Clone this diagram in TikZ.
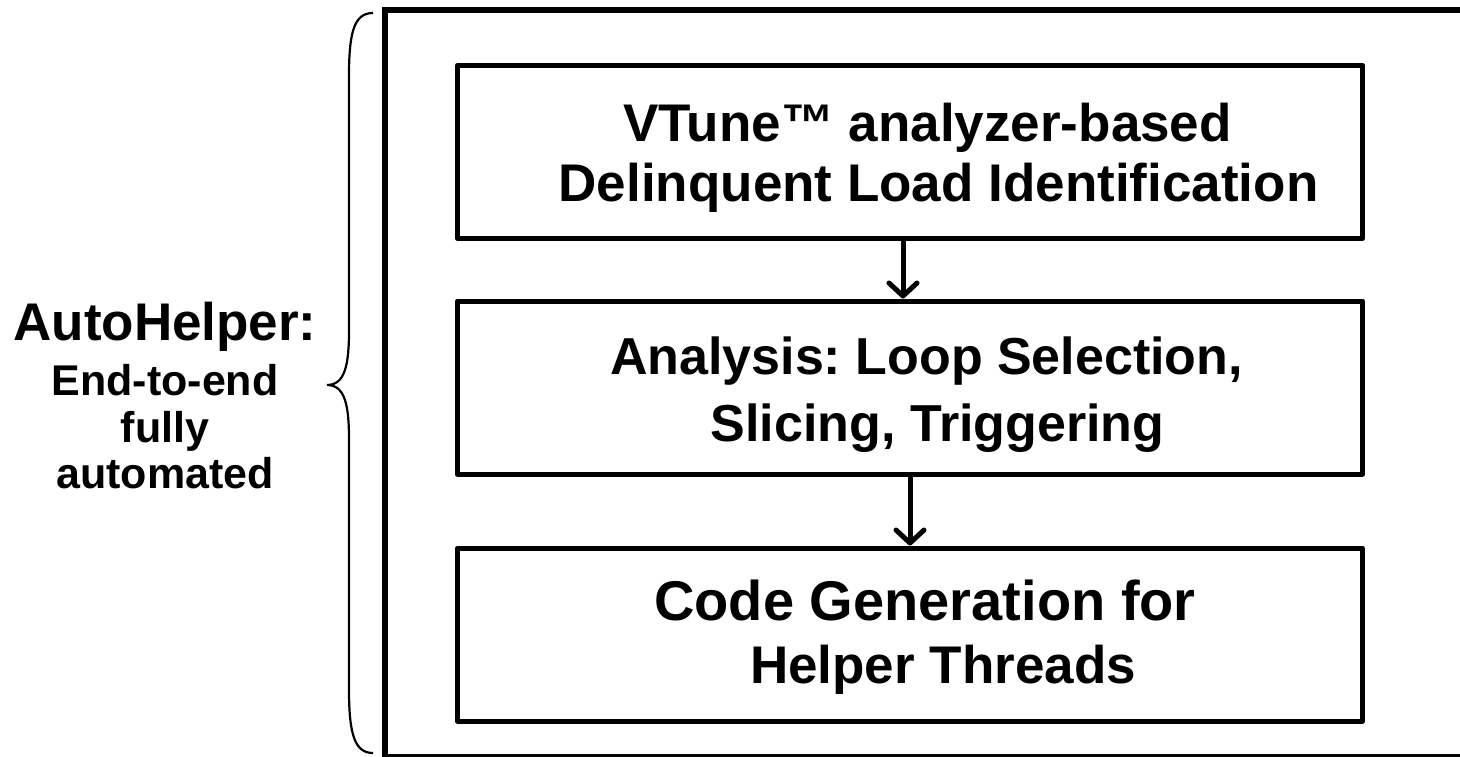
\documentclass[tikz,border=0pt]{standalone}
\usepackage{fontspec}
\setmainfont{Liberation Sans}
\usetikzlibrary{arrows.meta,positioning}
\frenchspacing

\begin{document}
\begin{tikzpicture}[x=0.5pt,y=-0.5pt,
    every node/.style={font=\bfseries,align=center,inner sep=0pt},
    stage/.style={draw,line width=2.5pt,line join=round,minimum width=452.5pt,minimum height=86.5pt},
    flow/.style={line width=2.5pt,-{Straight Barb[length=6.5pt,width=14pt,round]}}]
    \clip (0,0) rectangle (1460,756);
    % frame and brace
    \draw[line width=3pt] (1500,10) -- (385,10) -- (385,757) -- (1500,757);
    \draw[line width=1.1pt] (373,13) .. controls (355,13) and (349,30) .. (349,75) -- (349,330)
        .. controls (349,365) and (345,385) .. (327,385)
        .. controls (345,385) and (349,405) .. (349,440) -- (349,690)
        .. controls (349,735) and (355,753) .. (373,753);
    \node[font=\bfseries\fontsize{26.5}{32}\selectfont,anchor=base] (auto) at (165,340) {AutoHelper:};
    \node[font=\bfseries\fontsize{21.5}{23.25}\selectfont] (autonote) at (165,427) {End-to-end\\fully\\automated};
    % stages
    \node[stage] (detect) at (910,151.8) {};
    \node[stage] (analyse) at (910,387.5) {};
    \node[stage] (codegen) at (910,634.5) {};
    \node[font=\bfseries\fontsize{26.5}{30}\selectfont] (detecttxt) at (933,158) {VTune™ analyzer-based\hspace*{5.5pt}\\\hspace*{5.5pt}Delinquent Load Identification};
    \node[font=\bfseries\fontsize{26}{33.5}\selectfont] (analysetxt) at (932,395) {Analysis: Loop Selection,\hspace*{5.5pt}\\\hspace*{5.5pt}Slicing, Triggering};
    \node[font=\bfseries\fontsize{28}{31.5}\selectfont] (codegentxt) at (934,637) {Code Generation for\hspace*{9pt}\\\fontsize{26.5}{31.5}\selectfont\hspace*{9pt}Helper Threads};
    \draw[flow] ([xshift=-3.5pt]detect.south) -- ([xshift=-3.5pt]analyse.north);
    \draw[flow] (analyse.south) -- (codegen.north);
\end{tikzpicture}
\end{document}
